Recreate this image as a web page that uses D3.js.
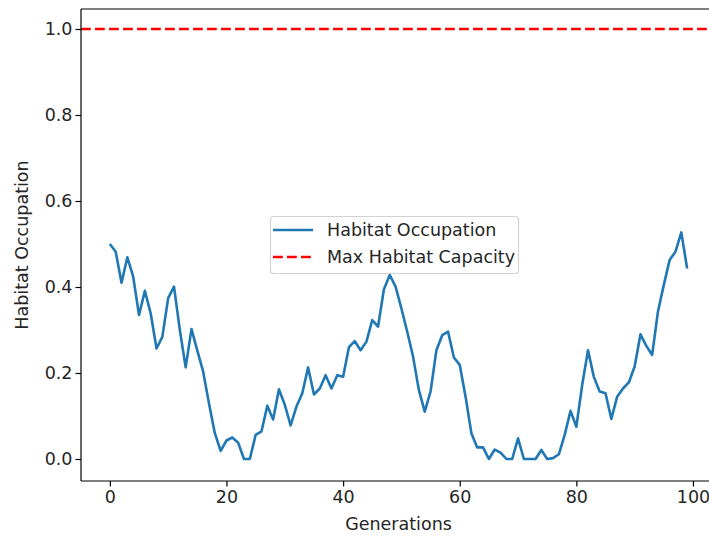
<!DOCTYPE html>
<html>
<head>
<meta charset="utf-8">
<script src="https://cdn.jsdelivr.net/npm/d3@7"></script>
<style>
  html, body { margin: 0; padding: 0; background: #fff; }
  svg { display: block; }
  text { font-family: "DejaVu Sans", sans-serif; fill: #262626; }
</style>
</head>
<body>
<svg id="chart" width="709" height="539"></svg>
<script>
const generations = d3.range(0, 100);
const occupation = [
  0.500, 0.482, 0.410, 0.469, 0.424, 0.335, 0.391, 0.339, 0.257, 0.284,
  0.374, 0.401, 0.300, 0.213, 0.302, 0.252, 0.203, 0.129, 0.060, 0.019,
  0.043, 0.050, 0.038, 0.000, 0.000, 0.056, 0.064, 0.124, 0.092, 0.162,
  0.126, 0.078, 0.122, 0.153, 0.213, 0.150, 0.164, 0.195, 0.164, 0.195,
  0.191, 0.260, 0.274, 0.253, 0.273, 0.323, 0.308, 0.395, 0.428, 0.401,
  0.350, 0.296, 0.238, 0.160, 0.110, 0.157, 0.253, 0.288, 0.296, 0.236,
  0.219, 0.145, 0.060, 0.027, 0.027, 0.000, 0.022, 0.015, 0.000, 0.000,
  0.048, 0.000, 0.000, 0.000, 0.021, 0.000, 0.002, 0.011, 0.056, 0.112,
  0.075, 0.172, 0.253, 0.191, 0.157, 0.153, 0.093, 0.145, 0.164, 0.178,
  0.215, 0.290, 0.263, 0.242, 0.343, 0.405, 0.463, 0.482, 0.527, 0.443
];
const maxCapacity = 1.0;
const xTicks = [0, 20, 40, 60, 80, 100];
const yTicks = [0.0, 0.2, 0.4, 0.6, 0.8, 1.0];
const legendLabels = ["Habitat Occupation", "Max Habitat Capacity"];

(function () {
const svg = d3.select("#chart");
const pL = 81, pT = 9, pR = 716, pB = 481;
const fs = 17.5;

const x = d3.scaleLinear().domain([-4.95, 103.95]).range([pL, pR]);
const y = d3.scaleLinear().domain([-0.05, 1.05]).range([480.5, 7.5]);

svg.append("clipPath").attr("id", "plotclip").append("rect")
  .attr("x", pL).attr("y", pT).attr("width", pR - pL).attr("height", pB - pT);

const plot = svg.append("g").attr("clip-path", "url(#plotclip)");

plot.append("line")
  .attr("x1", pL).attr("x2", pR)
  .attr("y1", y(maxCapacity)).attr("y2", y(maxCapacity))
  .attr("stroke", "#ff0000").attr("stroke-width", 2.6)
  .attr("stroke-dasharray", "9.8,4.2");

const line = d3.line().x((d, i) => x(generations[i])).y(d => y(d));
plot.append("path")
  .datum(occupation)
  .attr("d", line)
  .attr("fill", "none")
  .attr("stroke", "#1f77b4")
  .attr("stroke-width", 2.6)
  .attr("stroke-linejoin", "round");

const xAxis = d3.axisBottom(x).tickValues(xTicks).tickFormat(d3.format("d"))
  .tickSize(5.5).tickPadding(4);
const gx = svg.append("g").attr("transform", `translate(0,${pB})`).call(xAxis);
gx.select(".domain").remove();
gx.selectAll(".tick line").attr("stroke", "#000").attr("stroke-width", 1.2);
gx.selectAll(".tick text").attr("font-size", fs).attr("font-family", "DejaVu Sans").attr("fill", "#262626");

const yAxis = d3.axisLeft(y).tickValues(yTicks).tickFormat(d3.format(".1f"))
  .tickSize(5.5).tickPadding(3);
const gy = svg.append("g").attr("transform", `translate(${pL},0)`).call(yAxis);
gy.select(".domain").remove();
gy.selectAll(".tick line").attr("stroke", "#000").attr("stroke-width", 1.2);
gy.selectAll(".tick text").attr("font-size", fs).attr("font-family", "DejaVu Sans").attr("fill", "#262626");

const sp = svg.append("g").attr("stroke", "#000").attr("stroke-width", 1.2).attr("fill", "none");
sp.append("line").attr("x1", pL).attr("x2", pL).attr("y1", pT).attr("y2", pB);
sp.append("line").attr("x1", pL).attr("x2", 709).attr("y1", pB).attr("y2", pB);
sp.append("line").attr("x1", pL).attr("x2", 709).attr("y1", pT).attr("y2", pT);

svg.append("text").attr("x", (pL + pR) / 2).attr("y", 530)
  .attr("text-anchor", "middle").attr("font-size", fs).text("Generations");
svg.append("text")
  .attr("transform", `translate(28,${(pT + pB) / 2}) rotate(-90)`)
  .attr("text-anchor", "middle").attr("font-size", fs).text("Habitat Occupation");

const lg = svg.append("g");
lg.append("rect").attr("x", 270.5).attr("y", 216.5).attr("width", 248).attr("height", 57)
  .attr("rx", 3).attr("fill", "#fff").attr("fill-opacity", 0.8)
  .attr("stroke", "#d3d3d3").attr("stroke-width", 1.2);
const rows = [
  { label: legendLabels[0], color: "#1f77b4", dash: null },
  { label: legendLabels[1], color: "#ff0000", dash: "9.8,4.2" }
];
rows.forEach((r, i) => {
  const cy = 230 + i * 27;
  const l = lg.append("line").attr("x1", 273).attr("x2", 313).attr("y1", cy).attr("y2", cy)
    .attr("stroke", r.color).attr("stroke-width", 2.6);
  if (r.dash) l.attr("stroke-dasharray", r.dash);
  lg.append("text").attr("x", 327).attr("y", cy).attr("dy", "0.35em")
    .attr("font-size", fs).text(r.label);
});
})();
</script>
</body>
</html>
